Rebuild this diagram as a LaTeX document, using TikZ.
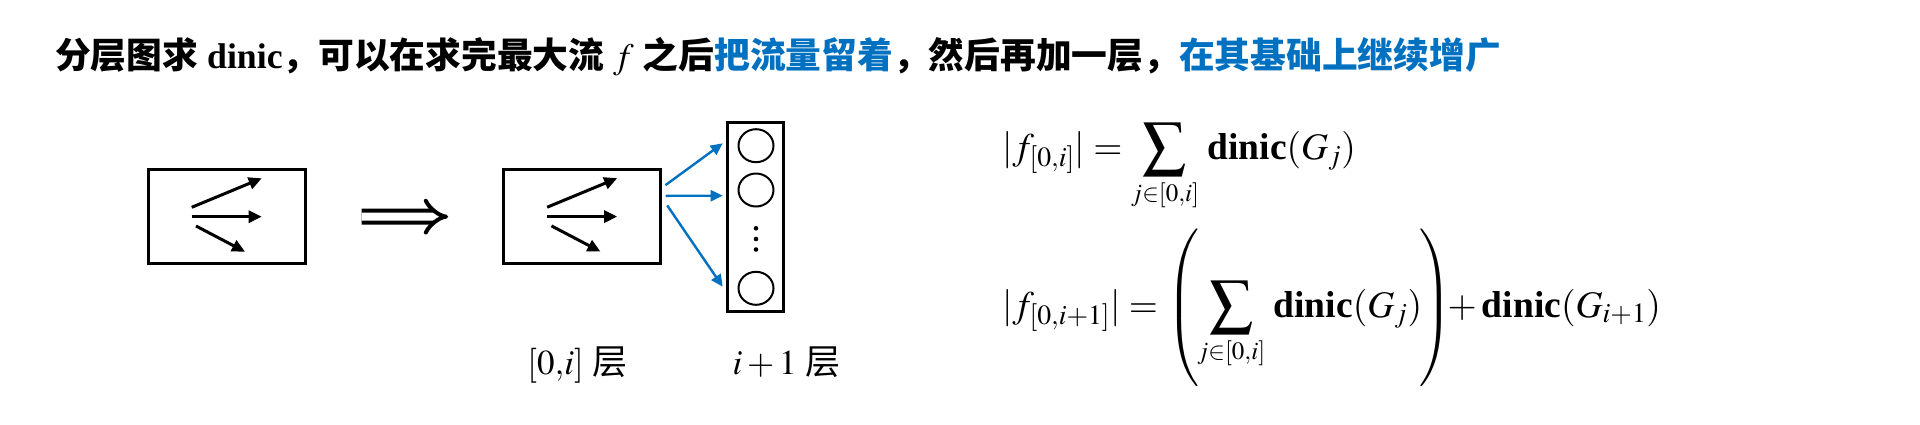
\documentclass[tikz,border=0pt]{standalone}
\usepackage{mathptmx}
\usepackage{graphicx}
\usepackage[no-math]{fontspec}
\setmainfont{Liberation Serif}
\newfontfamily\cjk{Noto Sans CJK SC}
\usetikzlibrary{arrows.meta,shapes.geometric,calc}
\definecolor{pblue}{RGB}{0,112,192}
\newcommand\mysum[1]{\mathop{\vcenter{\hbox{\fontsize{62}{66}\selectfont$\sum$}}}\limits_{\mbox{\fontsize{25}{25}\selectfont$#1$}}}
\begin{document}
\begin{tikzpicture}[x=1pt,y=-1pt,
  box/.style={draw, line width=3pt, minimum width=157pt, minimum height=94pt, inner sep=0pt},
  colbox/.style={draw, line width=3pt, minimum width=56pt, minimum height=189pt, inner sep=0pt},
  vert/.style={draw, ellipse, line width=2pt, minimum width=35pt, minimum height=33pt, inner sep=0pt},
  inarr/.style={line width=3pt, -{Triangle[length=13pt,width=12pt]}},
  bluearr/.style={pblue, line width=2.4pt, -{Triangle[length=12pt,width=11pt]}},
  implies/.style={line width=4pt, double distance=8pt, -{Implies}},
  dot/.style={circle, fill, inner sep=0pt, minimum size=4.6pt},
  big/.style={font=\fontsize{35.75}{42}\selectfont},
  mid/.style={font=\fontsize{35}{40}\selectfont},
  eqf/.style={font=\fontsize{37.5}{44}\selectfont}
]
\useasboundingbox (0,0) rectangle (1920,424);

% title
\node[big, anchor=base west, inner sep=0pt] (title) at (55,68)
  {{\cjk\bfseries 分层图求} \textbf{dinic}{\cjk\bfseries ，可以在求完最大流} $f$ {\cjk\bfseries 之后}{\cjk\bfseries\color{pblue}把流量留着}{\cjk\bfseries ，然后再加一层，}{\cjk\bfseries\color{pblue}在其基础上继续增广}};

% boxes
\node[box] (b1) at (226.7,216.7) {};
\node[box] (b2) at (582.2,216.6) {};

% inner arrows
\foreach \b in {b1,b2}{
  \coordinate (\b u0) at ($(\b.center)+(-35,-9.4)$);
  \coordinate (\b u1) at ($(\b.center)+(35,-38.4)$);
  \coordinate (\b m0) at ($(\b.center)+(-35,0)$);
  \coordinate (\b m1) at ($(\b.center)+(35,0)$);
  \coordinate (\b l0) at ($(\b.center)+(-30.7,9.3)$);
  \coordinate (\b l1) at ($(\b.center)+(18.3,35)$);
  \draw[inarr] (\b u0) -- (\b u1);
  \draw[inarr] (\b m0) -- (\b m1);
  \draw[inarr] (\b l0) -- (\b l1);
}

% implies
\draw[implies, shorten <=55pt, shorten >=54pt] (b1) -- (b2);

% column of vertices
\node[colbox] (col) at (755.5,216.5) {};
\node[vert] (c1) at (756,145.7) {};
\node[vert] (c2) at (756,190) {};
\node[vert] (c3) at (756,288.3) {};
\node[dot] (d1) at (756,228.3) {};
\node[dot] (d2) at (756,239) {};
\node[dot] (d3) at (756,249.5) {};

% blue arrows
\coordinate (s1) at ($(b2.east)+(3.3,-31.5)$);
\coordinate (s2) at ($(b2.east)+(3.3,-20.8)$);
\coordinate (s3) at ($(b2.east)+(5,-11.2)$);
\coordinate (e1) at ($(col.west)+(-3.3,-73.2)$);
\coordinate (e2) at ($(col.west)+(-3.3,-20.8)$);
\coordinate (e3) at ($(col.west)+(-3.3,70.2)$);
\draw[bluearr] (s1) -- (e1);
\draw[bluearr] (s2) -- (e2);
\draw[bluearr] (s3) -- (e3);

% labels
\node[mid, anchor=base, inner sep=0pt] (lab1) at (577.5,374) {$[0{,}i]$ {\cjk 层}};
\node[mid, anchor=base, inner sep=0pt] (lab2) at (786.5,374) {$i+1$ {\cjk 层}};

% formulas
\node[eqf, anchor=base west, inner sep=0pt] (eq1) at (1002,159)
  {$\displaystyle |f_{[0{,}i]}| = \mysum{j{\in}[0{,}i]}\, \textbf{dinic}(G_j)$};
\node[eqf, anchor=base west, inner sep=0pt] (eq2) at (1002,317)
  {$\displaystyle |f_{[0{,}i+1]}| = \left(\rule[-65pt]{0pt}{145pt}\mkern-3mu\mysum{j{\in}[0{,}i]}\, \textbf{dinic}(G_j)\mkern-1mu\right)\mkern-5mu+ \textbf{dinic}(G_{i+1})$};
\end{tikzpicture}
\end{document}
